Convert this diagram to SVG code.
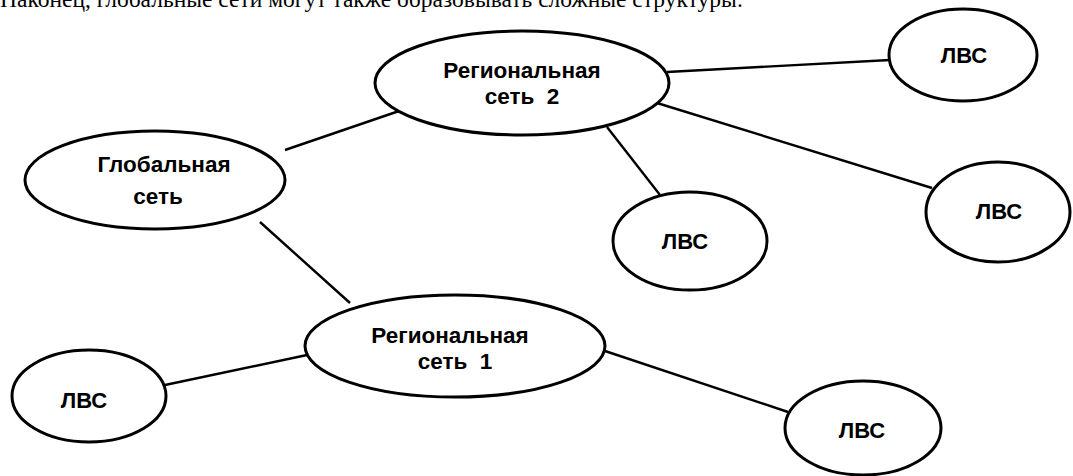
<svg xmlns="http://www.w3.org/2000/svg" width="1073" height="476" viewBox="0 0 1073 476">
<style>
.node ellipse{fill:#fff;stroke:#000;stroke-width:3}
.node text{font-family:"Liberation Sans",Arial,sans-serif;font-weight:bold;font-size:22.5px;fill:#000;text-anchor:middle}
.node text.lvs{font-size:22px}
#connectors line{stroke:#000;stroke-width:2.4}
.caption{font-family:"Liberation Serif","Times New Roman",serif;font-size:23.5px;fill:#000}
</style>
<rect width="1073" height="476" fill="#fff"/>
<text class="caption" x="0" y="7">Наконец, глобальные сети могут также образовывать сложные структуры.</text>
<g id="connectors">
<line x1="285" y1="150" x2="402" y2="110"/>
<line x1="260" y1="222" x2="350" y2="303"/>
<line x1="667" y1="72" x2="890" y2="60"/>
<line x1="657" y1="103" x2="932" y2="188"/>
<line x1="607" y1="127" x2="660" y2="195"/>
<line x1="165" y1="385" x2="307" y2="355"/>
<line x1="602" y1="350" x2="788" y2="412"/>
</g>
<g id="global" class="node">
<ellipse cx="155" cy="180" rx="130" ry="49"/>
<text x="164" y="172">Глобальная</text>
<text x="158" y="204">сеть</text>
</g>
<g id="regional2" class="node">
<ellipse cx="522" cy="83" rx="147" ry="52"/>
<text x="522" y="78">Региональная</text>
<text x="522" y="104" xml:space="preserve">сеть  2</text>
</g>
<g id="regional1" class="node">
<ellipse cx="455" cy="346" rx="150" ry="51"/>
<text x="450" y="343">Региональная</text>
<text x="455" y="369" xml:space="preserve">сеть  1</text>
</g>
<g id="lvs-top" class="node">
<ellipse cx="963" cy="55" rx="74" ry="46"/>
<text class="lvs" x="964" y="63">ЛВС</text>
</g>
<g id="lvs-right" class="node">
<ellipse cx="998" cy="212" rx="72" ry="50"/>
<text class="lvs" x="999" y="219">ЛВС</text>
</g>
<g id="lvs-mid" class="node">
<ellipse cx="690" cy="241" rx="77" ry="49"/>
<text class="lvs" x="685" y="249">ЛВС</text>
</g>
<g id="lvs-left" class="node">
<ellipse cx="89" cy="396" rx="77" ry="46"/>
<text class="lvs" x="84" y="408">ЛВС</text>
</g>
<g id="lvs-bottom" class="node">
<ellipse cx="863" cy="428" rx="78" ry="47"/>
<text class="lvs" x="862" y="438">ЛВС</text>
</g>
</svg>
